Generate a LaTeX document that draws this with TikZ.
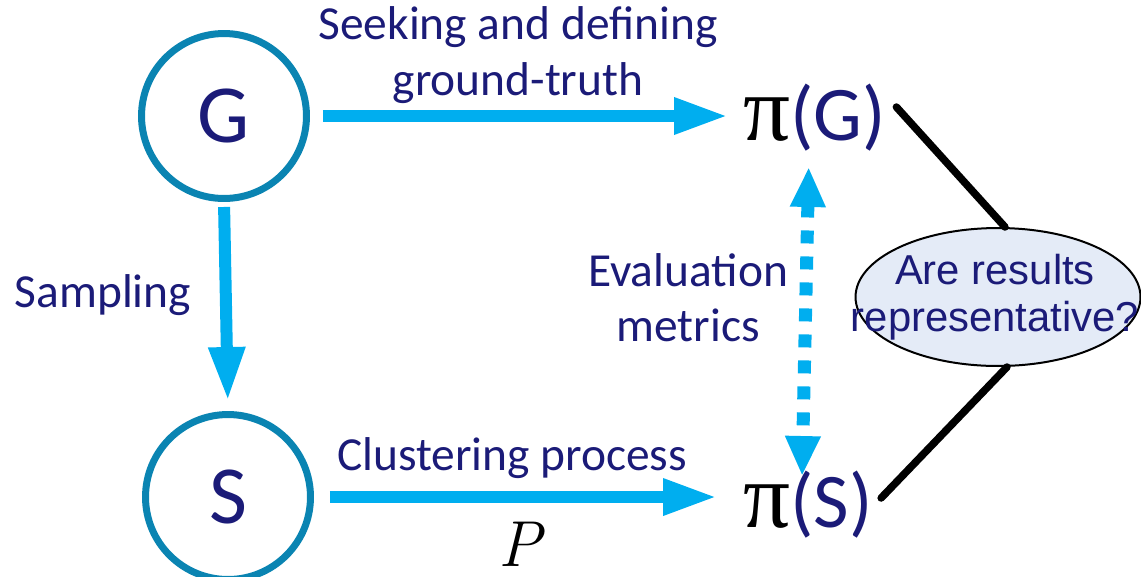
\documentclass[tikz,border=0pt]{standalone}
\usepackage{fontspec}
\setmainfont{Carlito}
\newfontfamily\arialfont{Liberation Sans}
\newfontfamily\pifont{Liberation Serif}
\newfontfamily\lmfont{Latin Modern Roman}
\usepackage{tikz}
\usetikzlibrary{positioning}
\usetikzlibrary{arrows.meta}
\usetikzlibrary{shapes.geometric}
\definecolor{navy}{HTML}{1B1B78}
\definecolor{ringblue}{HTML}{0A84B2}
\definecolor{flowblue}{HTML}{00AEEF}
\definecolor{qfill}{HTML}{E4EBF7}
\tikzset {
  x=0.02cm, y=-0.02cm,
  % the two graphs
  graph/.style = {draw=ringblue, line width=0.14cm, circle, minimum size=3.3cm,
    inner sep=0, text=navy, font=\fontsize{47}{47}\selectfont},
  % clusterings
  result/.style = {inner sep=0, text=navy, font=\fontsize{44}{44}\selectfont},
  % blue text next to arrows
  lbl/.style = {inner sep=0, text=navy, align=center, font=\fontsize{27}{31.5}\selectfont},
  % thick blue arrows
  flow/.style = {flowblue, line width=0.24cm, -{Triangle[width=0.68cm,length=1.08cm]}},
  metric/.style = {flowblue, line width=0.26cm, dash pattern=on 0.26cm off 0.26cm,
    {Triangle[width=0.66cm,length=0.8cm]}-{Triangle[width=0.66cm,length=0.8cm]}},
  link/.style = {black, line width=0.15cm, line cap=round},
  question/.style = {draw=black, line width=0.04cm, fill=qfill, ellipse,
    minimum width=5.7cm, minimum height=2.76cm, inner sep=0},
}
\newcommand{\piof}[1]{\textcolor{black}{\pifont\fontsize{53}{53}\selectfont π}(#1)}
\begin{document}
\begin{tikzpicture}
      \useasboundingbox (0,0) rectangle (1141,576);

      \node[graph] (G) at (224,116) {G};
      \node[graph] (S) at (228,497) {S};

      \node[result, anchor=west] (piG) at (743,118) {\piof{G}};
      \node[result, anchor=west] (piS) at (743,505) {\piof{S}};

      \node[question] (q) at (998,297) {};
      \node[inner sep=0, text=navy, align=center, font=\arialfont\fontsize{23.8}{26.5}\selectfont]
        (qtext) at ([xshift=-0.06cm]q.center) {Are results\\representative?};

      \node[lbl] (seek) at (518,55) {Seeking and defining\\ground-truth};
      \node[lbl] (samp) at (103,295) {Sampling};
      \node[lbl] (eval) at (688,298) {Evaluation\\metrics};
      \node[lbl] (clus) at (512,458) {Clustering process};
      \node[inner sep=0, font=\lmfont\itshape\fontsize{37}{37}\selectfont] (P) at (520,544) {P};

      \draw[flow, shorten <=0.26cm, shorten >=0.3cm] (G.east) -- (G.east -| piG.west);
      \draw[flow, shorten <=0.1cm, shorten >=0.2cm] (G.south) -- (S.north);
      \draw[flow, shorten <=0.32cm, shorten >=0.52cm] (S.east) -- (S.east -| piS.west);
      \draw[metric] ([xshift=-0.12cm, yshift=-0.3cm]piG.south) -- ([xshift=-0.12cm, yshift=-0.1cm]piS.north);

      \draw[link] ([xshift=0.2cm, yshift=0.22cm]piG.east) -- ([xshift=0.14cm]q.north);
      \draw[link] ([xshift=0.16cm, yshift=0.14cm]piS.east) -- ([xshift=0.18cm]q.south);
\end{tikzpicture}
\end{document}
